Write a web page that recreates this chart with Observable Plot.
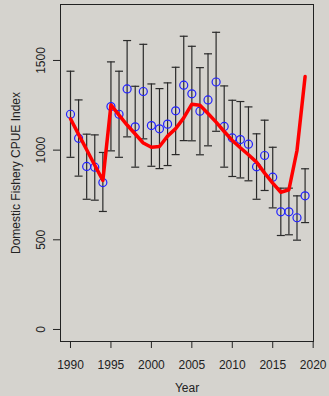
<!DOCTYPE html>
<html>
<head>
<meta charset="utf-8">
<script src="https://cdn.jsdelivr.net/npm/d3@7"></script>
<script src="https://cdn.jsdelivr.net/npm/@observablehq/plot@0.6"></script>
<style>
  html, body { margin: 0; padding: 0; background: #d5d3ce; }
  #chart svg { display: block; background: #d5d3ce; }
</style>
</head>
<body>
<div id="chart"></div>
<script>
const years = [1990,1991,1992,1993,1994,1995,1996,1997,1998,1999,2000,2001,2002,2003,2004,2005,2006,2007,2008,2009,2010,2011,2012,2013,2014,2015,2016,2017,2018,2019];
const cpue  = [1200,1066,909,905,819,1243,1200,1341,1130,1327,1137,1119,1145,1219,1362,1314,1217,1280,1380,1132,1068,1059,1033,907,970,849,656,656,623,745];
const upper = [1440,1280,1089,1085,987,1492,1440,1611,1356,1590,1369,1343,1375,1462,1635,1579,1460,1537,1657,1358,1278,1271,1241,1091,1167,1016,788,788,745,896];
const lower = [960,855,726,721,658,996,960,1074,905,1063,910,897,914,975,1053,1052,974,1024,1105,905,853,845,829,726,775,678,524,528,498,596];
const fitted = [1175,1088,1002,916,831,1252,1195,1140,1090,1040,1016,1020,1078,1120,1180,1256,1250,1204,1156,1104,1054,1013,974,933,872,816,765,779,998,1410];
const xTicks = [1990,1995,2000,2005,2010,2015,2020];
const yTicks = [0,500,1000,1500];

const data = years.map((y, i) => ({year: y, cpue: cpue[i], upper: upper[i], lower: lower[i], fit: fitted[i]}));

const capSymbol = {
  draw(context, size) {
    const w = Math.sqrt(size / Math.PI);
    context.moveTo(-w, 0);
    context.lineTo(w, 0);
  }
};

const font = "'Liberation Sans', Arial, Helvetica, sans-serif";

const chart = Plot.plot({
  width: 329,
  height: 396,
  marginLeft: 60,
  marginRight: 16,
  marginTop: 4,
  marginBottom: 55,
  style: {fontFamily: font, fontSize: "12px", color: "#222", background: "#d5d3ce"},
  x: {domain: [1988.764, 2020.04]},
  y: {domain: [-67, 1812]},
  marks: [
    Plot.frame({stroke: "#222", strokeWidth: 1}),
    Plot.axisX(xTicks, {tickSize: 7, tickPadding: 12, tickFormat: d => String(d), fontSize: 12, stroke: "#222", fill: "#222", label: null}),
    Plot.axisY(yTicks, {tickSize: 7, tickPadding: 9, tickRotate: -90, tickFormat: d => String(d), fontSize: 12, stroke: "#222", fill: "#222", label: null}),
    Plot.text(["Year"], {frameAnchor: "bottom", dy: 42, lineAnchor: "top", textAnchor: "middle", fontSize: 12, fill: "#222"}),
    Plot.text(["Domestic Fishery CPUE Index"], {frameAnchor: "left", dx: -49.5, rotate: -90, lineAnchor: "top", textAnchor: "middle", fontSize: 12, fill: "#222"}),
    Plot.ruleX(data, {x: "year", y1: "lower", y2: "upper", stroke: "#2a2a2a", strokeWidth: 1.2}),
    Plot.dot(data, {x: "year", y: "upper", symbol: capSymbol, r: 4, stroke: "#2a2a2a", strokeWidth: 1.2}),
    Plot.dot(data, {x: "year", y: "lower", symbol: capSymbol, r: 4, stroke: "#2a2a2a", strokeWidth: 1.2}),
    Plot.dot(data, {x: "year", y: "cpue", r: 4, stroke: "#2020ff", fill: "none", strokeWidth: 1.2}),
    Plot.line(data, {x: "year", y: "fit", stroke: "#ff0000", strokeWidth: 3.5})
  ]
});
document.getElementById("chart").appendChild(chart);
</script>
</body>
</html>
